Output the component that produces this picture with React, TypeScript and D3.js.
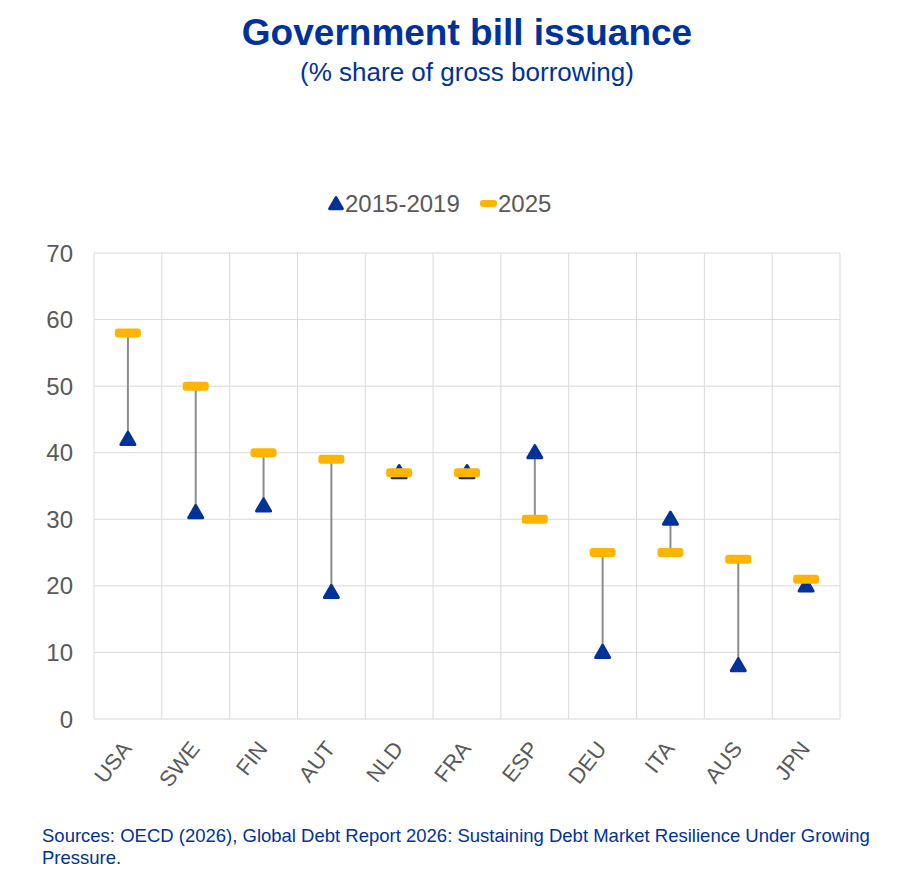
import { useEffect, useRef } from 'react'
import * as d3 from 'd3'

const countries = ['USA', 'SWE', 'FIN', 'AUT', 'NLD', 'FRA', 'ESP', 'DEU', 'ITA', 'AUS', 'JPN']
const avg2015to2019 = [42, 31, 32, 19, 37, 37, 40, 10, 30, 8, 20]
const share2025 = [58, 50, 40, 39, 37, 37, 30, 25, 25, 24, 21]
const yTicks = [0, 10, 20, 30, 40, 50, 60, 70]
const seriesNames = ['2015-2019', '2025']

const BLUE = '#003299'
const YELLOW = '#FFB400'
const GREY_TEXT = '#595959'
const GRID = '#d9d9d9'

export default function App() {
  const svgRef = useRef<SVGSVGElement>(null)

  useEffect(() => {
    if (!svgRef.current) return
    document.body.style.margin = '0'

    const width = 907
    const height = 893
    const margin = { top: 253, right: 67, bottom: 174, left: 94 }

    const svg = d3.select(svgRef.current)
    svg.selectAll('*').remove()
    svg.attr('width', width).attr('height', height)
      .style('font-family', '"Liberation Sans", Arial, sans-serif')

    const x = d3.scaleBand()
      .domain(countries)
      .range([margin.left, width - margin.right])

    const y = d3.scaleLinear()
      .domain([0, 70])
      .range([height - margin.bottom, margin.top])

    // Title
    svg.append('text')
      .attr('x', 467).attr('y', 45)
      .attr('text-anchor', 'middle')
      .attr('fill', BLUE)
      .attr('font-size', 37)
      .attr('font-weight', 'bold')
      .text('Government bill issuance')

    svg.append('text')
      .attr('x', 467).attr('y', 81)
      .attr('text-anchor', 'middle')
      .attr('fill', BLUE)
      .attr('font-size', 26)
      .text('(% share of gross borrowing)')

    // Gridlines
    const grid = svg.append('g')
    grid.selectAll('.hgrid')
      .data(yTicks)
      .enter().append('line')
      .attr('x1', margin.left)
      .attr('x2', width - margin.right)
      .attr('y1', d => y(d))
      .attr('y2', d => y(d))
      .attr('stroke', GRID)
      .attr('stroke-width', 1)

    const bounds = countries.map(c => x(c) as number).concat([width - margin.right])
    grid.selectAll('.vgrid')
      .data(bounds)
      .enter().append('line')
      .attr('x1', d => d)
      .attr('x2', d => d)
      .attr('y1', y(70))
      .attr('y2', y(0))
      .attr('stroke', GRID)
      .attr('stroke-width', 1)

    // Y axis labels
    svg.append('g')
      .selectAll('text')
      .data(yTicks)
      .enter().append('text')
      .attr('x', 73)
      .attr('y', d => y(d) + 8.5)
      .attr('text-anchor', 'end')
      .attr('fill', GREY_TEXT)
      .attr('font-size', 24)
      .text(d => d)

    // X axis labels
    svg.append('g')
      .selectAll('text')
      .data(countries)
      .enter().append('text')
      .attr('transform', d => `translate(${(x(d) as number) + x.bandwidth() / 2 + 5},${y(0) + 30}) rotate(-52)`)
      .attr('text-anchor', 'end')
      .attr('fill', GREY_TEXT)
      .attr('font-size', 22)
      .text(d => d)

    const cx = (i: number) => (x(countries[i]) as number) + x.bandwidth() / 2

    // Connector lines
    svg.append('g')
      .selectAll('line')
      .data(countries)
      .enter().append('line')
      .attr('x1', (_, i) => cx(i))
      .attr('x2', (_, i) => cx(i))
      .attr('y1', (_, i) => y(avg2015to2019[i]))
      .attr('y2', (_, i) => y(share2025[i]))
      .attr('stroke', '#8c8c8c')
      .attr('stroke-width', 2)

    const tri = d3.symbol().type(d3.symbolTriangle).size(85)

    // 2015-2019 triangles
    svg.append('g')
      .selectAll('path')
      .data(avg2015to2019)
      .enter().append('path')
      .attr('d', tri() as string)
      .attr('transform', (d, i) => `translate(${cx(i)},${y(d) + 1})`)
      .attr('fill', BLUE)
      .attr('stroke', BLUE)
      .attr('stroke-width', 3)
      .attr('stroke-linejoin', 'round')

    // 2025 dashes
    svg.append('g')
      .selectAll('rect')
      .data(share2025)
      .enter().append('rect')
      .attr('x', (_, i) => cx(i) - 13)
      .attr('y', d => y(d) - 4.5)
      .attr('width', 26)
      .attr('height', 9)
      .attr('rx', 3)
      .attr('fill', YELLOW)

    // Legend
    const legend = svg.append('g')
    legend.append('path')
      .attr('d', d3.symbol().type(d3.symbolTriangle).size(70)() as string)
      .attr('transform', 'translate(336,205)')
      .attr('fill', BLUE)
      .attr('stroke', BLUE)
      .attr('stroke-width', 3)
      .attr('stroke-linejoin', 'round')
    legend.append('text')
      .attr('x', 345).attr('y', 212)
      .attr('fill', GREY_TEXT)
      .attr('font-size', 24)
      .text(seriesNames[0])
    legend.append('rect')
      .attr('x', 480).attr('y', 200)
      .attr('width', 17).attr('height', 7)
      .attr('rx', 3)
      .attr('fill', YELLOW)
    legend.append('text')
      .attr('x', 498).attr('y', 212)
      .attr('fill', GREY_TEXT)
      .attr('font-size', 24)
      .text(seriesNames[1])

    // Source note
    const note = svg.append('text')
      .attr('fill', BLUE)
      .attr('font-size', 18.5)
    note.append('tspan')
      .attr('x', 42).attr('y', 842)
      .text('Sources: OECD (2026), Global Debt Report 2026: Sustaining Debt Market Resilience Under Growing')
    note.append('tspan')
      .attr('x', 42).attr('y', 864)
      .text('Pressure.')
  }, [])

  return <svg ref={svgRef} style={{ display: 'block' }} />
}
